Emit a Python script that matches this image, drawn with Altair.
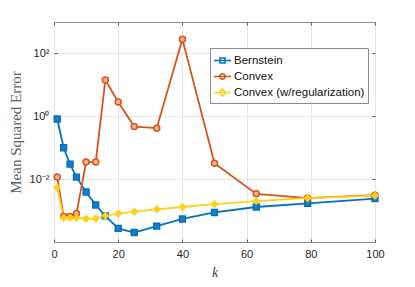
import altair as alt
import pandas as pd

# ---- data ----
k = [1, 3, 5, 7, 10, 13, 16, 20, 25, 32, 40, 50, 63, 79, 100]
bernstein = [0.82, 0.10, 0.030, 0.0116, 0.0039, 0.0015, 0.00068, 0.00027,
             0.00020, 0.00032, 0.00054, 0.00087, 0.0013, 0.0017, 0.0024]
convex = [0.0116, 0.00065, 0.00065, 0.00080, 0.035, 0.035, 14.2, 2.85,
          0.47, 0.42, 285.0, 0.032, 0.0034, 0.0025, 0.0031]
convex_reg = [0.0054, 0.00059, 0.00059, 0.00059, 0.00055, 0.00056, 0.00068,
              0.00080, 0.00092, 0.0011, 0.0013, 0.0016, 0.0020, 0.0025, 0.0030]

series_names = ["Bernstein", "Convex", "Convex (w/regularization)"]
stroke_colors = ["#0072BD", "#D95319", "#FFD11A"]
fill_colors = ["#1f7cc4", "#f1b596", "#FFD11A"]
marker_shapes = ["square", "circle", "diamond"]
marker_sizes = [34, 38, 45]
legend_paths = [
    "M-1,0H1M-0.3,-0.3H0.3V0.3H-0.3Z",
    "M-1,0H1M0.32,0A0.32,0.32 0 1,1 -0.32,0A0.32,0.32 0 1,1 0.32,0Z",
    "M-1,0H1M0,-0.42L0.42,0L0,0.42L-0.42,0Z",
]
x_ticks = [0, 20, 40, 60, 80, 100]
y_ticks = [1e-2, 1, 1e2]
y_labels = ["10⁻²", "10⁰", "10²"]

rows = []
for name, vals in zip(series_names, [bernstein, convex, convex_reg]):
    for kk, v in zip(k, vals):
        rows.append({"k": kk, "mse": v, "series": name})
df = pd.DataFrame(rows)

label_expr = (f"datum.value < 0.1 ? '{y_labels[0]}' : "
              f"datum.value < 10 ? '{y_labels[1]}' : '{y_labels[2]}'")

xscale = alt.Scale(domain=[0, 100], nice=False, zero=False)
yscale = alt.Scale(type="log", domain=[1e-4, 1e3], nice=False)

base = alt.Chart(df)

lines = base.mark_line(strokeWidth=1.8).encode(
    x=alt.X("k:Q", scale=xscale,
            axis=alt.Axis(orient="bottom", values=x_ticks, grid=True, offset=-3,
                          tickSize=3, labelPadding=6, labelFlush=False, title="k",
                          titleFont="Liberation Serif", titleFontStyle="italic",
                          titleFontWeight="normal", titleFontSize=14,
                          titleColor="#404040", titlePadding=6)),
    y=alt.Y("mse:Q", scale=yscale,
            axis=alt.Axis(orient="left", values=y_ticks, grid=True, offset=-3,
                          tickSize=3, labelPadding=5, labelExpr=label_expr,
                          labelFlush=False,
                          title="Mean Squared Error",
                          titleFont="Liberation Serif", titleFontWeight="normal",
                          titleFontSize=15, titleColor="#606060", titlePadding=6)),
    stroke=alt.Stroke("series:N", scale=alt.Scale(domain=series_names, range=stroke_colors),
                      legend=None),
)

points = base.mark_point(opacity=1, strokeWidth=1.5).encode(
    x=alt.X("k:Q", scale=xscale,
            axis=alt.Axis(orient="top", values=x_ticks, grid=False, offset=-3,
                          tickSize=3, labels=False, title=None)),
    y=alt.Y("mse:Q", scale=yscale,
            axis=alt.Axis(orient="right", values=y_ticks, grid=False, offset=-3,
                          tickSize=3, labels=False, title=None)),
    stroke=alt.Stroke("series:N", scale=alt.Scale(domain=series_names, range=stroke_colors),
                      legend=None),
    fill=alt.Fill("series:N", scale=alt.Scale(domain=series_names, range=fill_colors),
                  legend=None),
    shape=alt.Shape("series:N", scale=alt.Scale(domain=series_names, range=marker_shapes),
                    legend=None),
    size=alt.Size("series:N", scale=alt.Scale(domain=series_names, range=marker_sizes),
                  legend=None),
)

legend_layer = base.transform_filter("false").mark_point(
    filled=False, opacity=1, size=289, strokeWidth=1.5
).encode(
    color=alt.Color("series:N", scale=alt.Scale(domain=series_names, range=stroke_colors),
                    legend=alt.Legend(title=None, orient="none", legendX=156, legendY=26,
                                      padding=3, strokeColor="#8c8c8c", fillColor="white",
                                      labelFont="Liberation Sans", labelFontSize=11.5,
                                      labelColor="#111", labelOffset=2, rowPadding=0,
                                      symbolSize=289, symbolStrokeWidth=1.5,
                                      cornerRadius=0)),
    shape=alt.Shape("series:N", scale=alt.Scale(domain=series_names, range=legend_paths)),
)

chart = alt.layer(lines, points, legend_layer).resolve_scale(
    shape="independent", color="independent"
).resolve_axis(
    x="independent", y="independent"
).properties(
    width=321, height=220,
    padding={"left": 46, "top": 14, "right": 32, "bottom": 37},
    autosize=alt.AutoSizeParams(type="none"),
    background="white",
).configure_axis(
    labelFont="Liberation Sans", labelFontSize=11, labelColor="#262626",
    tickColor="#555555", domain=False, gridColor="#e6e6e6", gridWidth=1,
).configure_view(
    stroke="#8c8c8c", strokeWidth=1,
)

chart.save("out.html", embed_options={"renderer": "svg", "actions": False})
